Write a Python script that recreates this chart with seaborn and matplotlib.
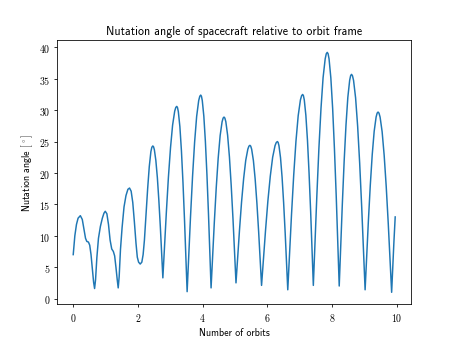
import matplotlib
matplotlib.use("Agg")
import matplotlib.pyplot as plt
import seaborn as sns
import pandas as pd

orbits = [
    0.00, 0.05, 0.10, 0.15, 0.22, 0.28, 0.34, 0.38, 0.42, 0.47, 0.51, 0.55, 0.59, 0.63, 0.66,
    0.69, 0.73, 0.78, 0.84, 0.90, 0.95, 0.99, 1.04, 1.09, 1.14, 1.19, 1.24, 1.28, 1.32, 1.36, 1.39,
    1.42, 1.46, 1.51, 1.57, 1.63, 1.69, 1.74, 1.79, 1.84, 1.89, 1.94, 1.98, 2.02, 2.07,
    2.12, 2.16, 2.20, 2.25, 2.30, 2.35, 2.40, 2.43, 2.46,
    2.482, 2.507, 2.553, 2.600, 2.646, 2.693, 2.739, 2.77,
    2.813, 2.878, 2.942, 3.007, 3.071, 3.136, 3.170, 3.20,
    3.222, 3.248, 3.296, 3.344, 3.392, 3.44, 3.488, 3.52,
    3.562, 3.625, 3.688, 3.751, 3.814, 3.877, 3.911, 3.94,
    3.962, 3.988, 4.036, 4.084, 4.132, 4.18, 4.228, 4.26,
    4.30, 4.36, 4.42, 4.48, 4.54, 4.60, 4.632, 4.66,
    4.686, 4.716, 4.771, 4.827, 4.882, 4.938, 4.993, 5.03,
    5.073, 5.138, 5.202, 5.267, 5.331, 5.396, 5.430, 5.46,
    5.485, 5.514, 5.568, 5.622, 5.676, 5.73, 5.784, 5.82,
    5.869, 5.943, 6.016, 6.090, 6.163, 6.237, 6.276, 6.31,
    6.332, 6.358, 6.406, 6.454, 6.502, 6.55, 6.598, 6.63,
    6.676, 6.745, 6.814, 6.883, 6.952, 7.021, 7.058, 7.09,
    7.113, 7.140, 7.189, 7.239, 7.288, 7.338, 7.387, 7.42,
    7.463, 7.528, 7.592, 7.657, 7.721, 7.786, 7.820, 7.85,
    7.876, 7.906, 7.961, 8.017, 8.072, 8.128, 8.183, 8.22,
    8.258, 8.315, 8.372, 8.429, 8.486, 8.543, 8.573, 8.60,
    8.629, 8.663, 8.726, 8.789, 8.852, 8.915, 8.978, 9.02,
    9.06, 9.12, 9.18, 9.24, 9.30, 9.36, 9.392, 9.42,
    9.449, 9.483, 9.546, 9.609, 9.672, 9.735, 9.798, 9.84,
    9.87, 9.91, 9.95,
]

nutation_deg = [
    7.0, 10.0, 11.8, 12.8, 13.2, 12.6, 10.8, 9.6, 9.1, 9.0, 8.5, 7.0, 4.8, 2.6, 1.6,
    3.0, 6.5, 9.6, 11.5, 12.8, 13.6, 13.9, 13.5, 11.8, 9.3, 7.9, 7.5, 6.8, 5.0, 3.0, 1.7,
    3.5, 7.8, 11.3, 14.6, 16.4, 17.4, 17.6, 17.1, 15.3, 12.2, 8.8, 6.6, 5.8, 5.5,
    5.8, 7.0, 9.3, 13.5, 17.5, 21.0, 23.4, 24.1, 24.3,
    24.17, 23.71, 22.01, 19.26, 15.65, 11.34, 6.58, 3.3,
    7.56, 13.76, 19.35, 24.05, 27.62, 29.84, 30.44, 30.6,
    30.42, 29.77, 27.38, 23.52, 18.45, 12.40, 5.70, 1.1,
    5.98, 13.09, 19.50, 24.89, 28.99, 31.52, 32.21, 32.4,
    32.22, 31.54, 29.05, 25.03, 19.75, 13.46, 6.49, 1.7,
    5.94, 12.12, 17.69, 22.37, 25.94, 28.14, 28.74, 28.9,
    28.74, 28.16, 26.02, 22.56, 18.02, 12.61, 6.62, 2.5,
    5.92, 10.89, 15.38, 19.14, 22.01, 23.79, 24.27, 24.4,
    24.27, 23.78, 21.97, 19.05, 15.21, 10.64, 5.58, 2.1,
    5.67, 10.87, 15.57, 19.50, 22.50, 24.36, 24.86, 25.0,
    24.86, 24.34, 22.43, 19.34, 15.28, 10.44, 5.08, 1.4,
    6.25, 13.31, 19.69, 25.04, 29.11, 31.63, 32.31, 32.5,
    32.32, 31.65, 29.19, 25.20, 19.98, 13.74, 6.84, 2.1,
    7.89, 16.31, 23.91, 30.30, 35.16, 38.16, 38.98, 39.2,
    38.98, 38.16, 35.15, 30.27, 23.87, 16.25, 7.80, 2.0,
    7.26, 14.91, 21.82, 27.61, 32.03, 34.76, 35.50, 35.7,
    35.49, 34.74, 31.96, 27.47, 21.57, 14.54, 6.75, 1.4,
    5.81, 12.24, 18.04, 22.91, 26.62, 28.91, 29.53, 29.7,
    29.53, 28.90, 26.57, 22.81, 17.88, 11.99, 5.48, 1.0,
    4.6, 9.0, 13.0,
]

x_ticks = [0, 2, 4, 6, 8, 10]
y_ticks = [0, 5, 10, 15, 20, 25, 30, 35, 40]

plt.rcParams["mathtext.fontset"] = "cm"
plt.rcParams["font.family"] = ["cmss10", "DejaVu Sans"]
plt.rcParams["axes.unicode_minus"] = False

df = pd.DataFrame({"orbits": orbits, "angle": nutation_deg})

fig, ax = plt.subplots(figsize=(6.4, 4.8), dpi=457 / 6.4)
sns.lineplot(data=df, x="orbits", y="angle", ax=ax, color="#1f77b4",
             linewidth=1.5, sort=False, estimator=None)

ax.set_xticks(x_ticks)
ax.set_yticks(y_ticks)
ax.set_xticklabels([f"${t}$" for t in x_ticks], fontsize=10)
ax.set_yticklabels([f"${t}$" for t in y_ticks], fontsize=10)

ax.set_title("Nutation angle of spacecraft relative to orbit frame", fontsize=12)
ax.set_xlabel("Number of orbits", fontsize=10)
ax.set_ylabel(r"Nutation angle $[^\circ]$", fontsize=10)

fig.savefig("out.png", dpi=457 / 6.4)
